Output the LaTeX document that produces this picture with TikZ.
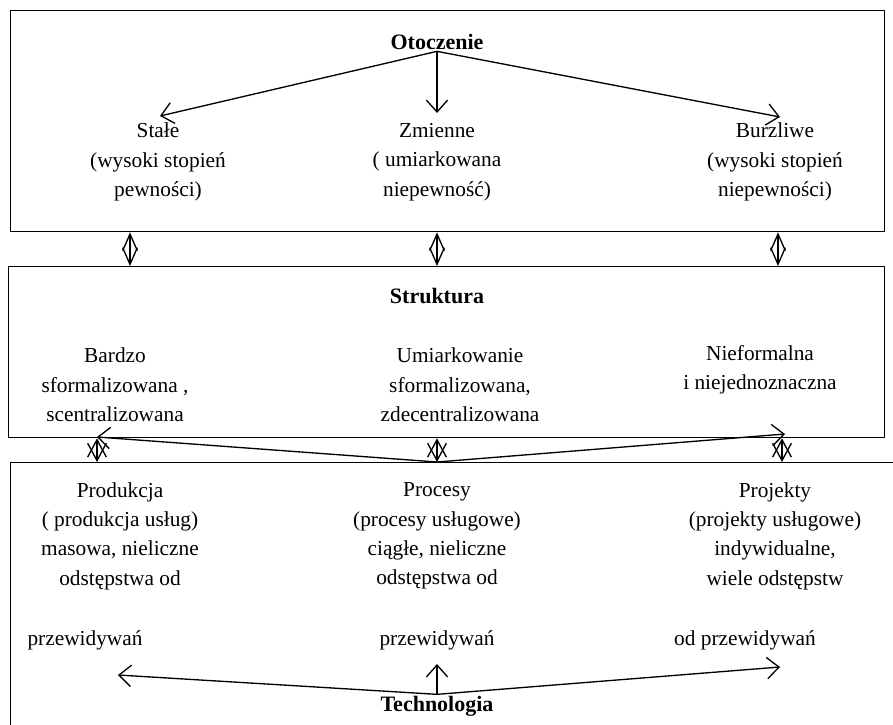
\documentclass[tikz,border=0pt]{standalone}
\usepackage{fontspec}
\setmainfont{Liberation Serif}
\usetikzlibrary{arrows.meta, positioning}

\begin{document}
\begin{tikzpicture}[
    x=0.75pt, y=-0.75pt,
    font=\fontsize{16}{22}\selectfont,
    frame/.style={draw, line width=1pt, inner sep=0pt, anchor=north west},
    head/.style={font=\fontsize{16.5}{22}\selectfont\bfseries, inner sep=1pt},
    txt/.style={align=center, inner sep=0pt},
    arr/.style={-{Straight Barb[length=9pt, width=16pt]}, line width=1pt},
    link/.style={{Straight Barb[length=12.5pt, width=11pt]}-{Straight Barb[length=12.5pt, width=11pt]}, line width=1pt},
    cross/.style={{Straight Barb[length=13pt, width=14pt]}-{Straight Barb[length=13pt, width=14pt]}, line width=1pt},
  ]
  \clip (0,0) rectangle (893,725);
  % three layers
  \node[frame, minimum width=655.5pt, minimum height=165.75pt] (env) at (10,10) {};
  \node[frame, minimum width=657pt, minimum height=128.25pt] (struct) at (8,266) {};
  \node[frame, minimum width=675pt, minimum height=225pt] (tech) at (10,462) {};
  % environment
  \node[head] (envhead) at (437,42) {Otoczenie};
  \node[txt] (stable) at (158,162) {Stałe\\(wysoki stopień\\pewności)};
  \node[txt] (variable) at (437,162) {Zmienne\\( umiarkowana\\niepewność)};
  \node[txt] (turbulent) at (775,162) {Burzliwe\\(wysoki stopień\\niepewności)};
  \coordinate (e1) at (160,116);
  \coordinate (e2) at (437,113);
  \coordinate (e3) at (780,117);
  \draw[arr] (envhead.south) -- (e1);
  \draw[arr] (envhead.south) -- (e2);
  \draw[arr] (envhead.south) -- (e3);
  % structure
  \node[head] (structhead) at (437,296) {Struktura};
  \node[txt] (formal) at (115,385) {Bardzo\\sformalizowana ,\\scentralizowana};
  \node[txt] (moderate) at (460,385) {Umiarkowanie\\sformalizowana,\\zdecentralizowana};
  \node[txt] (informal) at (760,370) {Nieformalna\\i niejednoznaczna};
  % links between layers
  \coordinate (k1) at (130,0);
  \coordinate (k2) at (437,0);
  \coordinate (k3) at (778,0);
  \draw[link] (k1 |- env.south) -- (k1 |- struct.north);
  \draw[link] (k2 |- env.south) -- (k2 |- struct.north);
  \draw[link] (k3 |- env.south) -- (k3 |- struct.north);
  \coordinate (q1) at (97,0);
  \coordinate (q2) at (437,0);
  \coordinate (q3) at (782,0);
  \draw[cross] (q1 |- struct.south) -- (q1 |- tech.north);
  \draw[cross] (q2 |- struct.south) -- (q2 |- tech.north);
  \draw[cross] (q3 |- struct.south) -- (q3 |- tech.north);
  \coordinate (hub) at (q2 |- tech.north);
  \coordinate (s1) at (97,437);
  \coordinate (s3) at (785,434);
  \draw[arr] (hub) -- (s1);
  \draw[arr] (hub) -- (s3);
  % technology
  \node[txt] (mass) at (120,536) {Produkcja\\( produkcja usług)\\masowa, nieliczne\\odstępstwa od};
  \node[txt] (mass2) at (85,640) {przewidywań};
  \node[txt] (process) at (437,536) {Procesy\\(procesy usługowe)\\ciągłe, nieliczne\\odstępstwa od};
  \node[txt] (process2) at (437,640) {przewidywań};
  \node[txt] (project) at (775,536) {Projekty\\(projekty usługowe)\\indywidualne,\\wiele odstępstw};
  \node[txt] (project2) at (745,640) {od przewidywań};
  \node[head] (techhead) at (437,706) {Technologia};
  \coordinate (t1) at (118,675);
  \coordinate (t2) at (437,664);
  \coordinate (t3) at (780,667);
  \draw[arr] (techhead.north) -- (t1);
  \draw[arr] (techhead.north) -- (t2);
  \draw[arr] (techhead.north) -- (t3);
\end{tikzpicture}
\end{document}
